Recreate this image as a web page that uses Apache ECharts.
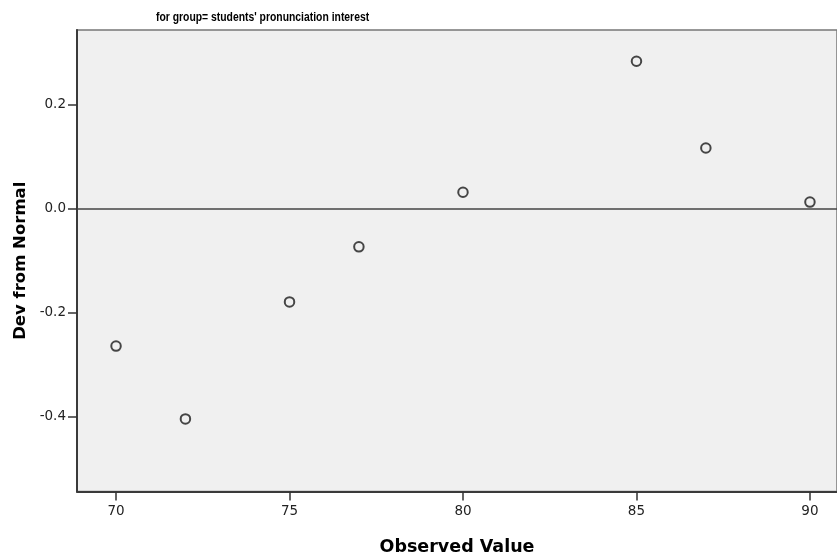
<!DOCTYPE html>
<html>
<head>
<meta charset="utf-8">
<script src="https://cdn.jsdelivr.net/npm/echarts@6/dist/echarts.min.js"></script>
<style>html,body{margin:0;padding:0;background:#fff}#c{width:837px;height:558px}</style>
</head>
<body>
<div id="c"></div>
<script>
const observed = [70, 72, 75, 77, 80, 85, 87, 90];
const deviation = [-0.265, -0.405, -0.180, -0.074, 0.031, 0.283, 0.116, 0.012];
const xTicks = [70, 75, 80, 85, 90];
const yTicks = [-0.4, -0.2, 0.0, 0.2];
const titleText = "for group= students' pronunciation interest";

const chart = echarts.init(document.getElementById('c'));
chart.setOption({
  animation: false,
  backgroundColor: '#ffffff',
  graphic: [{
    type: 'text', left: 156, top: 11, scaleX: 0.83, z: 10,
    style: { text: titleText, fill: '#000', font: 'bold 12.5px "Liberation Sans", Arial, sans-serif' }
  }],
  grid: {
    left: 77, right: 0, top: 30, bottom: 66.5,
    containLabel: false, outerBoundsMode: 'none',
    show: true, backgroundColor: '#f0f0f0', borderColor: '#777', borderWidth: 1.5
  },
  xAxis: {
    type: 'value', min: 68.875, max: 90.78,
    name: 'Observed Value', nameLocation: 'middle', nameGap: 47,
    nameTextStyle: { fontFamily: '"DejaVu Sans", sans-serif', fontWeight: 'bold', fontSize: 17.5, color: '#000' },
    splitLine: { show: false },
    axisLine: { show: true, onZero: false, lineStyle: { color: '#3a3a3a', width: 2 } },
    axisTick: { show: true, customValues: xTicks, length: 9, lineStyle: { color: '#333', width: 1.5 } },
    axisLabel: { customValues: xTicks, margin: 13, fontFamily: '"DejaVu Sans", sans-serif', fontSize: 13.5, color: '#222' }
  },
  yAxis: {
    type: 'value', min: -0.5446, max: 0.343,
    name: 'Dev from Normal', nameLocation: 'middle', nameGap: 42, nameRotate: 90,
    nameTextStyle: { fontFamily: '"DejaVu Sans", sans-serif', fontWeight: 'bold', fontSize: 16.5, color: '#000' },
    splitLine: { show: false },
    axisLine: { show: true, onZero: false, lineStyle: { color: '#3a3a3a', width: 2 } },
    axisTick: { show: true, customValues: yTicks, length: 9, lineStyle: { color: '#333', width: 1.5 } },
    axisLabel: { customValues: yTicks, margin: 11, fontFamily: '"DejaVu Sans", sans-serif', fontSize: 13.5, color: '#222',
      formatter: v => v.toFixed(1) }
  },
  series: [{
    type: 'scatter',
    data: observed.map((x, i) => [x, deviation[i]]),
    symbol: 'circle', symbolSize: 9.5,
    itemStyle: { color: 'transparent', borderColor: '#1a1a1a', borderWidth: 2 },
    markLine: {
      silent: true, symbol: 'none', label: { show: false },
      lineStyle: { color: '#444', width: 1.5, type: 'solid' },
      data: [{ yAxis: 0 }]
    },
    z: 3
  }]
});
</script>
</body>
</html>
